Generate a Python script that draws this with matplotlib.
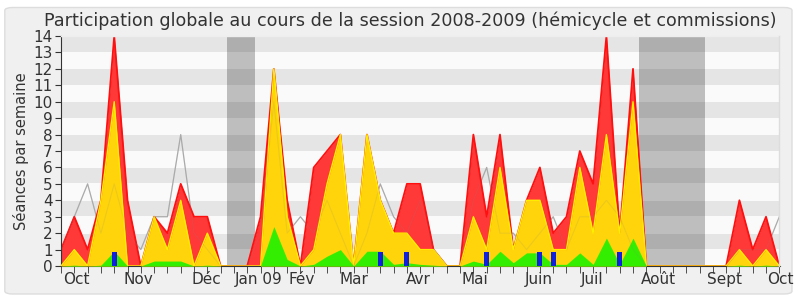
import matplotlib
matplotlib.use('Agg')
import matplotlib.pyplot as plt
from matplotlib.patches import FancyBboxPatch
import numpy as np

# weekly values, session 2008-2009 (55 weeks)
presences = [1, 3, 1, 4, 14, 4, 0, 3, 2, 5, 3, 3, 0, 0, 0, 3, 12, 4, 0, 6,
             7, 8, 0, 8, 4, 2, 5, 5, 1, 0, 0, 8, 3, 8, 1, 4, 6, 2, 3, 7,
             5, 14, 2, 12, 0, 0, 0, 0, 0, 0, 0, 4, 1, 3, 0]
participations = [0, 1, 0, 4, 10, 0, 0, 3, 1, 4, 0, 2, 0, 0, 0, 0, 12, 3, 0, 1,
                  5, 8, 0, 8, 4, 2, 2, 1, 1, 0, 0, 3, 1, 6, 1, 4, 4, 1, 1, 6,
                  2, 8, 2, 10, 0, 0, 0, 0, 0, 0, 0, 1, 0, 1, 0]
interventions = [0, 0.05, 0, 0.05, 0.9, 0, 0, 0.3, 0.3, 0.3, 0, 0.05, 0, 0, 0, 0, 2.4, 0.4, 0, 0.1,
                 0.6, 1.0, 0, 0.9, 0.9, 0.1, 0.2, 0.1, 0.05, 0, 0, 0.3, 0.1, 0.9, 0.2, 0.8, 0.8, 0.1, 0.1, 0.8,
                 0.1, 1.7, 0.1, 1.7, 0, 0, 0, 0, 0, 0, 0, 0.05, 0, 0.05, 0]
mediane = [1, 3, 5, 2, 5, 2, 1, 3, 3, 8, 2, 1, 0, 0, 0, 2, 10, 2, 3, 2,
           4, 2, 0, 2, 5, 3, 2, 4, 1, 0, 0, 4, 6, 2, 2, 1, 2, 3, 1, 3,
           3, 4, 3, 1, 0, 0, 0, 0, 0, 0, 0, 1, 1, 1, 3]
questions_weeks = [4, 24, 26, 32, 36, 37, 42]
questions_height = [0.87, 0.87, 0.87, 0.87, 0.87, 0.87, 0.87]

vacances = [(12.45, 14.55), (43.43, 48.43)]
mois = ['Oct', 'Nov', 'Déc', 'Jan 09', 'Fév', 'Mar', 'Avr', 'Mai', 'Juin', 'Juil', 'Août', 'Sept', 'Oct']
mois_pos = [1.18, 5.78, 10.95, 14.85, 18.08, 22.05, 26.86, 31.1, 35.9, 39.9, 44.9, 49.9, 54.05]

weeks = np.arange(len(presences))

fig = plt.figure(figsize=(8, 3), dpi=100)
fig.patch.set_facecolor('white')
fig.patches.append(FancyBboxPatch((0.006, 0.02), 0.984, 0.955, boxstyle='round,pad=0,rounding_size=0.01',
                                  transform=fig.transFigure, facecolor='#f0f0f0', edgecolor='#dddddd',
                                  linewidth=1, zorder=-10))
ax = fig.add_axes([0.07625, 0.1133, 0.89875, 0.7667])
ax.set_facecolor('#fafafa')

for v in range(1, 14, 2):
    ax.axhspan(v + 0.03, v + 0.97, color='#e5e5e5', zorder=0, lw=0)
for a, b in vacances:
    ax.axvspan(a, b, color='black', alpha=0.24, zorder=1, lw=0)

# median line: visible on background, faint through the fills
ax.plot(weeks, mediane, color='#b0b0b0', lw=0.9, zorder=1.5)
ax.fill_between(weeks, presences, color='#ff3838', zorder=2, lw=0)
ax.plot(weeks, presences, color='#ff1010', lw=1.3, zorder=2)
ax.fill_between(weeks, participations, color='#ffd40a', zorder=3, lw=0)
ax.plot(weeks, participations, color='#ffee00', lw=1.0, zorder=3)
ax.fill_between(weeks, interventions, color='#33ee00', zorder=4, lw=0)
ax.bar(questions_weeks, questions_height, width=0.38, color='#1020dd', zorder=5)
ax.plot(weeks, mediane, color='#888888', lw=0.8, alpha=0.15, zorder=6)

ax.set_xlim(0, 54)
ax.set_ylim(0, 14)
ax.set_yticks(range(0, 15))
ax.set_xticks(mois_pos)
ax.set_xticklabels(mois)
ax.set_xticks(weeks, minor=True)
ax.tick_params(axis='x', which='major', length=0, labelsize=11, pad=4, colors='#333333')
ax.tick_params(axis='x', which='minor', length=5, direction='out', color='#333333')
ax.tick_params(axis='y', length=4, labelsize=11, pad=2, colors='#333333')
ax.set_ylabel('Séances par semaine', fontsize=10.5, color='#333333', labelpad=3)

for s in ['top', 'right']:
    ax.spines[s].set_visible(False)
ax.spines['left'].set_color('#333333')
ax.spines['bottom'].set_color('#333333')
ax.plot([0, 54], [14, 14], color='#eeeeee', lw=1, clip_on=False, zorder=7)
ax.plot([54, 54], [0, 14], color='#dddddd', lw=1, clip_on=False, zorder=7)
ax.scatter(weeks, [14.1] * len(weeks), s=0.5, color='#777777', marker=',', lw=0, clip_on=False, zorder=8)

fig.text(0.5125, 0.93, 'Participation globale au cours de la session 2008-2009 (hémicycle et commissions)',
         ha='center', va='center', fontsize=12.6, color='#333333')

plt.savefig('out.png', dpi=100, facecolor=fig.get_facecolor())
